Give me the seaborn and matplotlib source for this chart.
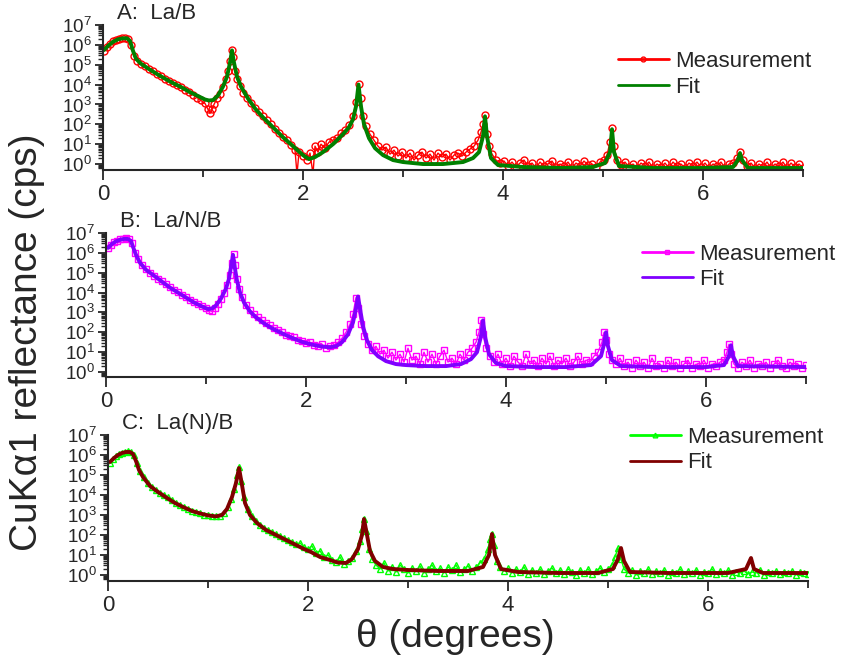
import numpy as np
import matplotlib
matplotlib.use("Agg")
import matplotlib.pyplot as plt
from matplotlib.ticker import LogLocator, MultipleLocator, NullFormatter
import seaborn as sns

sns.set_style("ticks")
plt.rcParams["font.family"] = ["Liberation Sans", "DejaVu Sans"]
plt.rcParams["mathtext.default"] = "regular"

# ---------------- data (theta in degrees, intensity as log10(cps)) ----------------
# Panel A: La/B
meas_a_theta = [0.01, 0.04, 0.07, 0.10, 0.13, 0.16, 0.19, 0.22, 0.25, 0.28, 0.31, 0.34, 0.38, 0.42, 0.46,
                0.50, 0.54, 0.58, 0.62, 0.66, 0.70, 0.74, 0.78, 0.82, 0.86, 0.90, 0.94, 0.98, 1.02, 1.05,
                1.07, 1.09, 1.11, 1.14, 1.17, 1.20, 1.23, 1.25, 1.27, 1.285, 1.30, 1.32, 1.34, 1.37, 1.40,
                1.44, 1.48, 1.52, 1.56, 1.60, 1.64, 1.68, 1.72, 1.76, 1.80, 1.84, 1.88, 1.92, 1.94, 1.96,
                2.00, 2.04, 2.07, 2.10, 2.12, 2.15, 2.18, 2.22, 2.26, 2.30, 2.34, 2.38, 2.42, 2.46, 2.50,
                2.53, 2.555, 2.575, 2.60, 2.63, 2.67, 2.71, 2.75, 2.79, 2.83, 2.87, 2.91, 2.95, 2.99, 3.03,
                3.07, 3.11, 3.15, 3.19, 3.23, 3.27, 3.31, 3.35, 3.39, 3.43, 3.47, 3.51, 3.55, 3.59, 3.63,
                3.67, 3.71, 3.75, 3.78, 3.80, 3.82, 3.84, 3.86, 3.89, 3.93, 3.97, 4.01, 4.05, 4.09, 4.13,
                4.17, 4.21, 4.25, 4.29, 4.33, 4.37, 4.41, 4.45, 4.49, 4.53, 4.57, 4.61, 4.65, 4.69, 4.73,
                4.77, 4.81, 4.85, 4.89, 4.93, 4.97, 5.01, 5.04, 5.07, 5.09, 5.11, 5.14, 5.18, 5.22, 5.26,
                5.30, 5.34, 5.38, 5.42, 5.46, 5.50, 5.54, 5.58, 5.62, 5.66, 5.70, 5.74, 5.78, 5.82, 5.86,
                5.90, 5.94, 5.98, 6.02, 6.06, 6.10, 6.14, 6.18, 6.22, 6.26, 6.30, 6.34, 6.37, 6.40, 6.44,
                6.48, 6.52, 6.56, 6.60, 6.64, 6.68, 6.72, 6.76, 6.80, 6.84, 6.88, 6.92, 6.96, 7.00]
meas_a_log = [5.70, 5.90, 6.05, 6.17, 6.25, 6.30, 6.33, 6.35, 6.32, 6.00, 5.45, 5.20, 5.05, 4.92, 4.80,
              4.68, 4.55, 4.43, 4.30, 4.20, 4.08, 3.98, 3.88, 3.75, 3.62, 3.50, 3.35, 3.20, 3.05, 2.75,
              2.55, 2.75, 3.00, 3.30, 3.55, 3.90, 4.30, 4.70, 5.20, 5.75, 5.40, 4.70, 4.30, 3.95, 3.60,
              3.30, 3.05, 2.80, 2.60, 2.40, 2.20, 2.00, 1.75, 1.55, 1.35, 1.20, 0.95, 0.70, -0.50, 0.60,
              0.40, 0.20, 0.55, -0.50, 0.90, 0.60, 1.00, 0.80, 1.10, 1.20, 1.30, 1.55, 1.70, 1.95, 2.40,
              3.10, 4.05, 3.30, 2.40, 1.90, 1.50, 1.20, 0.90, 0.70, 0.85, 0.50, 0.70, 0.40, 0.60, 0.30,
              0.55, 0.20, 0.45, 0.60, 0.30, 0.50, 0.20, 0.55, 0.35, 0.50, 0.20, 0.45, 0.55, 0.40, 0.60,
              0.75, 0.90, 1.20, 1.60, 2.00, 2.45, 1.50, 0.90, 0.50, 0.20, 0.05, 0.15, -0.10, 0.10, -0.15,
              0.05, 0.20, -0.10, 0.05, -0.20, 0.10, -0.10, 0.00, 0.15, -0.15, 0.00, -0.10, 0.10, -0.20, 0.05,
              -0.10, 0.15, -0.05, 0.00, -0.15, 0.10, 0.20, 0.45, 1.10, 1.80, 0.90, 0.20, -0.05, 0.10, -0.15,
              0.00, -0.20, 0.05, -0.10, 0.10, -0.20, 0.00, -0.15, 0.05, -0.20, 0.10, -0.10, 0.00, -0.20, 0.05,
              -0.10, 0.10, -0.15, 0.05, -0.20, 0.00, -0.10, 0.10, -0.20, 0.00, 0.05, 0.30, 0.60, 0.20, -0.10,
              0.05, -0.20, 0.00, -0.15, 0.10, -0.20, 0.00, -0.10, 0.10, -0.20, 0.05, -0.15, 0.00, -0.20]
fit_a_theta = [0.01, 0.05, 0.10, 0.15, 0.20, 0.24, 0.27, 0.30, 0.33, 0.38, 0.46, 0.55, 0.63, 0.71, 0.79,
               0.87, 0.96, 1.02, 1.06, 1.10, 1.15, 1.20, 1.24, 1.27, 1.29, 1.31, 1.34, 1.38, 1.45, 1.52,
               1.60, 1.70, 1.80, 1.90, 2.00, 2.06, 2.12, 2.20, 2.30, 2.40, 2.46, 2.50, 2.53, 2.555, 2.58,
               2.61, 2.66, 2.72, 2.80, 2.90, 3.00, 3.20, 3.40, 3.60, 3.70, 3.76, 3.80, 3.82, 3.84, 3.88,
               3.95, 4.20, 4.60, 4.90, 5.02, 5.07, 5.09, 5.11, 5.16, 5.50, 6.00, 6.30, 6.35, 6.37, 6.39,
               6.45, 7.00]
fit_a_log = [5.74, 5.95, 6.15, 6.28, 6.33, 6.33, 6.20, 5.70, 5.30, 5.05, 4.78, 4.50, 4.27, 4.05, 3.85,
             3.62, 3.40, 3.25, 3.20, 3.22, 3.45, 3.90, 4.40, 5.10, 5.72, 5.10, 4.40, 3.90, 3.30, 2.80,
             2.35, 1.85, 1.35, 0.90, 0.45, 0.25, 0.35, 0.60, 1.00, 1.50, 1.85, 2.25, 2.90, 4.00, 2.90,
             2.00, 1.30, 0.80, 0.45, 0.20, 0.10, 0.00, 0.00, 0.10, 0.30, 0.60, 1.40, 2.40, 1.40, 0.30,
             -0.05, -0.15, -0.20, -0.15, 0.05, 0.60, 1.75, 0.60, -0.10, -0.20, -0.20, -0.15, 0.20, 0.55, 0.20,
             -0.20, -0.20]

# Panel B: La/N/B
meas_b_theta = [0.02, 0.05, 0.08, 0.11, 0.14, 0.17, 0.20, 0.23, 0.26, 0.29, 0.32, 0.36, 0.40, 0.44, 0.48,
                0.52, 0.56, 0.60, 0.64, 0.68, 0.72, 0.76, 0.80, 0.84, 0.88, 0.92, 0.96, 1.00, 1.03, 1.06,
                1.09, 1.12, 1.15, 1.18, 1.21, 1.24, 1.26, 1.275, 1.29, 1.31, 1.33, 1.36, 1.40, 1.44, 1.48,
                1.52, 1.56, 1.60, 1.64, 1.68, 1.72, 1.76, 1.80, 1.84, 1.88, 1.92, 1.96, 2.00, 2.04, 2.08,
                2.12, 2.16, 2.20, 2.24, 2.28, 2.32, 2.36, 2.40, 2.44, 2.47, 2.50, 2.52, 2.55, 2.58, 2.62,
                2.66, 2.70, 2.74, 2.78, 2.82, 2.86, 2.90, 2.94, 2.98, 3.02, 3.06, 3.10, 3.14, 3.18, 3.22,
                3.26, 3.30, 3.34, 3.38, 3.42, 3.46, 3.50, 3.54, 3.58, 3.62, 3.66, 3.70, 3.73, 3.75, 3.77,
                3.80, 3.84, 3.88, 3.92, 3.96, 4.00, 4.04, 4.08, 4.12, 4.16, 4.20, 4.24, 4.28, 4.32, 4.36,
                4.40, 4.44, 4.48, 4.52, 4.56, 4.60, 4.64, 4.68, 4.72, 4.76, 4.80, 4.84, 4.88, 4.92, 4.96,
                4.98, 5.00, 5.03, 5.06, 5.10, 5.14, 5.18, 5.22, 5.26, 5.30, 5.34, 5.38, 5.42, 5.46, 5.50,
                5.54, 5.58, 5.62, 5.66, 5.70, 5.74, 5.78, 5.82, 5.86, 5.90, 5.94, 5.98, 6.02, 6.06, 6.10,
                6.14, 6.18, 6.21, 6.23, 6.25, 6.28, 6.32, 6.36, 6.40, 6.44, 6.48, 6.52, 6.56, 6.60, 6.64,
                6.68, 6.72, 6.76, 6.80, 6.84, 6.88, 6.92, 6.96, 7.00]
meas_b_log = [6.25, 6.42, 6.55, 6.62, 6.68, 6.72, 6.73, 6.70, 6.50, 6.00, 5.70, 5.40, 5.18, 5.00, 4.85,
              4.70, 4.57, 4.42, 4.30, 4.15, 4.03, 3.90, 3.78, 3.65, 3.52, 3.42, 3.30, 3.20, 3.10, 3.05,
              3.20, 3.45, 3.70, 4.00, 4.40, 4.90, 5.50, 5.95, 5.40, 4.70, 4.20, 3.80, 3.40, 3.12, 2.90,
              2.75, 2.60, 2.45, 2.35, 2.20, 2.10, 2.00, 1.88, 1.80, 1.75, 1.60, 1.55, 1.45, 1.50, 1.35,
              1.30, 1.40, 1.20, 1.30, 1.35, 1.50, 1.70, 2.00, 2.40, 2.90, 3.75, 3.20, 2.40, 1.80, 1.40,
              1.10, 1.30, 0.90, 1.10, 0.70, 1.00, 0.60, 0.90, 0.50, 1.20, 0.60, 0.80, 0.40, 1.00, 0.50,
              0.90, 0.40, 0.80, 1.10, 0.50, 0.70, 0.40, 0.90, 0.60, 1.00, 1.20, 1.50, 2.00, 2.60, 1.90,
              1.20, 0.80, 0.50, 0.90, 0.40, 0.70, 0.30, 0.80, 0.50, 0.30, 0.90, 0.40, 0.60, 0.30, 0.70,
              0.40, 0.80, 0.30, 0.60, 0.40, 0.70, 0.30, 0.50, 0.80, 0.40, 0.60, 0.50, 0.80, 1.00, 1.50,
              2.00, 1.60, 0.90, 0.60, 0.40, 0.70, 0.30, 0.50, 0.20, 0.60, 0.30, 0.50, 0.20, 0.70, 0.30,
              0.40, 0.20, 0.60, 0.30, 0.50, 0.20, 0.40, 0.60, 0.20, 0.40, 0.30, 0.60, 0.20, 0.40, 0.30,
              0.50, 0.60, 1.00, 1.40, 0.90, 0.40, 0.20, 0.50, 0.30, 0.60, 0.20, 0.40, 0.30, 0.50, 0.20,
              0.40, 0.60, 0.30, 0.20, 0.50, 0.30, 0.40, 0.20, 0.35]
fit_b_theta = [0.02, 0.06, 0.10, 0.14, 0.18, 0.22, 0.25, 0.27, 0.30, 0.34, 0.40, 0.48, 0.56, 0.64, 0.72,
               0.80, 0.88, 0.96, 1.02, 1.06, 1.10, 1.15, 1.20, 1.23, 1.25, 1.27, 1.29, 1.31, 1.34, 1.38,
               1.44, 1.50, 1.58, 1.66, 1.76, 1.86, 1.96, 2.06, 2.16, 2.24, 2.30, 2.36, 2.42, 2.47, 2.50,
               2.52, 2.54, 2.57, 2.61, 2.66, 2.72, 2.80, 2.90, 3.00, 3.20, 3.40, 3.55, 3.65, 3.71, 3.75,
               3.77, 3.79, 3.83, 3.90, 4.00, 4.30, 4.60, 4.85, 4.95, 4.98, 5.00, 5.02, 5.06, 5.15, 5.50,
               6.00, 6.18, 6.23, 6.25, 6.27, 6.32, 7.00]
fit_b_log = [6.25, 6.45, 6.58, 6.66, 6.70, 6.70, 6.60, 6.30, 5.90, 5.50, 5.15, 4.85, 4.55, 4.25, 4.00,
             3.75, 3.50, 3.30, 3.17, 3.20, 3.35, 3.70, 4.20, 4.70, 5.30, 5.90, 5.20, 4.60, 4.00, 3.50,
             3.05, 2.75, 2.45, 2.20, 1.95, 1.72, 1.52, 1.38, 1.28, 1.25, 1.30, 1.50, 1.90, 2.50, 3.20,
             3.80, 3.20, 2.30, 1.60, 1.10, 0.80, 0.55, 0.40, 0.35, 0.30, 0.30, 0.40, 0.65, 1.00, 1.80,
             2.60, 1.80, 0.90, 0.45, 0.30, 0.25, 0.25, 0.35, 0.80, 1.40, 2.00, 1.30, 0.60, 0.30, 0.25,
             0.25, 0.35, 0.80, 1.35, 0.80, 0.30, 0.25]

# Panel C: La(N)/B
meas_c_theta = [0.02, 0.05, 0.08, 0.11, 0.14, 0.17, 0.20, 0.23, 0.26, 0.29, 0.32, 0.36, 0.40, 0.44, 0.48,
                0.52, 0.56, 0.60, 0.64, 0.68, 0.72, 0.76, 0.80, 0.84, 0.88, 0.92, 0.96, 1.00, 1.04, 1.08,
                1.12, 1.16, 1.20, 1.23, 1.26, 1.29, 1.31, 1.33, 1.36, 1.40, 1.44, 1.48, 1.52, 1.56, 1.60,
                1.64, 1.68, 1.72, 1.76, 1.80, 1.84, 1.88, 1.92, 1.96, 2.00, 2.04, 2.08, 2.12, 2.16, 2.20,
                2.24, 2.28, 2.32, 2.36, 2.40, 2.44, 2.48, 2.52, 2.54, 2.56, 2.58, 2.61, 2.64, 2.68, 2.72,
                2.76, 2.80, 2.84, 2.88, 2.92, 2.96, 3.00, 3.04, 3.08, 3.12, 3.16, 3.20, 3.24, 3.28, 3.32,
                3.36, 3.40, 3.44, 3.48, 3.52, 3.56, 3.60, 3.64, 3.68, 3.72, 3.76, 3.80, 3.82, 3.84, 3.86,
                3.89, 3.92, 3.96, 4.00, 4.04, 4.08, 4.12, 4.16, 4.20, 4.24, 4.28, 4.32, 4.36, 4.40, 4.44,
                4.48, 4.52, 4.56, 4.60, 4.64, 4.68, 4.72, 4.76, 4.80, 4.84, 4.88, 4.92, 4.96, 5.00, 5.04,
                5.07, 5.10, 5.13, 5.16, 5.20, 5.24, 5.28, 5.32, 5.36, 5.40, 5.44, 5.48, 5.52, 5.56, 5.60,
                5.64, 5.68, 5.72, 5.76, 5.80, 5.84, 5.88, 5.92, 5.96, 6.00, 6.04, 6.08, 6.12, 6.16, 6.20,
                6.24, 6.28, 6.32, 6.36, 6.40, 6.44, 6.48, 6.52, 6.56, 6.60, 6.64, 6.68, 6.72, 6.76, 6.80,
                6.84, 6.88, 6.92, 6.96, 7.00]
meas_c_log = [5.60, 5.80, 5.95, 6.05, 6.12, 6.17, 6.18, 6.15, 6.00, 5.60, 5.20, 4.90, 4.60, 4.42, 4.27,
              4.12, 4.00, 3.88, 3.75, 3.62, 3.50, 3.42, 3.30, 3.22, 3.15, 3.08, 3.02, 2.98, 2.95, 2.93,
              2.97, 3.10, 3.40, 3.80, 4.30, 5.00, 5.40, 4.70, 3.90, 3.30, 2.95, 2.70, 2.50, 2.35, 2.25,
              2.15, 2.05, 1.95, 1.85, 1.75, 1.65, 1.55, 1.60, 1.40, 1.30, 1.45, 1.10, 1.20, 0.90, 1.00,
              0.75, 0.65, 0.90, 0.55, 0.70, 0.85, 1.20, 1.70, 2.30, 2.80, 2.20, 1.30, 0.80, 0.50, 0.30,
              0.60, 0.20, 0.40, 0.15, 0.50, 0.30, 0.10, 0.35, 0.20, 0.45, 0.10, 0.30, 0.50, 0.20, 0.35,
              0.10, 0.40, 0.25, 0.50, 0.15, 0.30, 0.45, 0.20, 0.40, 0.60, 0.80, 1.30, 1.80, 2.05, 1.50,
              0.70, 0.40, 0.20, 0.35, 0.10, 0.30, 0.15, 0.40, 0.05, 0.25, 0.10, 0.30, 0.05, 0.20, 0.35,
              0.10, 0.25, 0.05, 0.30, 0.15, 0.00, 0.25, 0.10, 0.30, 0.05, 0.20, 0.35, 0.15, 0.30, 0.50,
              0.90, 1.35, 0.80, 0.30, 0.10, 0.25, 0.00, 0.20, 0.10, 0.30, 0.05, 0.20, 0.10, 0.25, 0.00,
              0.15, 0.10, 0.30, 0.05, 0.20, 0.10, 0.25, 0.00, 0.15, 0.10, 0.30, 0.05, 0.20, 0.10, 0.25,
              0.00, 0.15, 0.10, 0.20, 0.05, 0.15, 0.10, 0.25, 0.00, 0.15, 0.10, 0.20, 0.05, 0.15, 0.10,
              0.20, 0.00, 0.15, 0.10, 0.05]
fit_c_theta = [0.02, 0.06, 0.10, 0.14, 0.18, 0.22, 0.25, 0.28, 0.31, 0.35, 0.42, 0.50, 0.59, 0.67, 0.75,
               0.84, 0.92, 1.00, 1.08, 1.14, 1.19, 1.24, 1.28, 1.31, 1.34, 1.37, 1.42, 1.49, 1.58, 1.68,
               1.76, 1.86, 1.96, 2.03, 2.12, 2.22, 2.30, 2.38, 2.44, 2.50, 2.54, 2.56, 2.59, 2.62, 2.67,
               2.75, 2.85, 3.00, 3.30, 3.60, 3.75, 3.81, 3.84, 3.87, 3.93, 4.10, 4.50, 4.90, 5.05, 5.10,
               5.13, 5.16, 5.22, 5.60, 6.20, 6.38, 6.43, 6.46, 6.55, 7.00]
fit_c_log = [5.65, 5.85, 6.00, 6.10, 6.15, 6.15, 6.05, 5.70, 5.25, 4.90, 4.45, 4.15, 3.85, 3.60, 3.40,
             3.20, 3.08, 2.98, 2.93, 3.00, 3.30, 3.90, 4.60, 5.35, 4.50, 3.60, 3.00, 2.60, 2.25, 2.00,
             1.80, 1.55, 1.30, 1.15, 0.90, 0.75, 0.62, 0.60, 0.80, 1.30, 2.00, 2.80, 2.00, 1.20, 0.70,
             0.40, 0.30, 0.25, 0.20, 0.20, 0.40, 1.00, 2.05, 1.00, 0.30, 0.15, 0.10, 0.10, 0.30, 0.80,
             1.35, 0.70, 0.15, 0.10, 0.10, 0.30, 0.85, 0.30, 0.10, 0.10]

panel_titles = ["A:  La/B", "B:  La/N/B", "C:  La(N)/B"]
x_label = "\u03b8 (degrees)"
y_label = "CuK\u03b11 reflectance (cps)"
legend_labels = ["Measurement", "Fit"]

panels = [
    dict(mt=meas_a_theta, ml=meas_a_log, ft=fit_a_theta, fl=fit_a_log,
         mcol="#FF0000", fcol="#008000", marker="o", ms=5.0,
         rect=[103 / 842, 1 - 170 / 657, 700 / 842, 145 / 657], ymin=-0.30,
         leg=(0.735, 0.82)),
    dict(mt=meas_b_theta, ml=meas_b_log, ft=fit_b_theta, fl=fit_b_log,
         mcol="#FF00FF", fcol="#8000FF", marker="s", ms=4.2,
         rect=[106 / 842, 1 - 377 / 657, 700 / 842, 144 / 657], ymin=-0.25,
         leg=(0.765, 0.925)),
    dict(mt=meas_c_theta, ml=meas_c_log, ft=fit_c_theta, fl=fit_c_log,
         mcol="#00FF00", fcol="#800000", marker="^", ms=4.8,
         rect=[108 / 842, 1 - 581 / 657, 700 / 842, 146 / 657], ymin=-0.30,
         leg=(0.745, 1.055)),
]

fig = plt.figure(figsize=(8.42, 6.57), dpi=100)

for p, title in zip(panels, panel_titles):
    ax = fig.add_axes(p["rect"])
    my = 10 ** np.array(p["ml"])
    fy = 10 ** np.array(p["fl"])
    sns.lineplot(x=p["mt"], y=my, ax=ax, color=p["mcol"], lw=1.0, marker=p["marker"],
                 markersize=p["ms"], markerfacecolor="none", markeredgecolor=p["mcol"],
                 markeredgewidth=1.0, estimator=None, sort=False, label=legend_labels[0])
    sns.lineplot(x=p["ft"], y=fy, ax=ax, color=p["fcol"], lw=2.8, estimator=None,
                 sort=False, label=legend_labels[1])
    ax.set_yscale("log")
    ax.set_xlim(0, 7)
    ax.set_ylim(10 ** p["ymin"], 1e7)
    ax.xaxis.set_major_locator(MultipleLocator(2))
    ax.xaxis.set_minor_locator(MultipleLocator(1))
    ax.yaxis.set_major_locator(LogLocator(base=10, numticks=20))
    ax.yaxis.set_minor_locator(LogLocator(base=10, subs=np.arange(2, 10), numticks=20))
    ax.yaxis.set_minor_formatter(NullFormatter())
    ax.tick_params(axis="y", which="major", length=6, width=1.3, labelsize=13.5, pad=2)
    ax.tick_params(axis="y", which="minor", length=3.5, width=1.0)
    ax.tick_params(axis="x", which="major", length=7, width=1.3, labelsize=16, pad=3)
    ax.tick_params(axis="x", which="minor", length=5, width=1.3)
    for s in ["top", "right"]:
        ax.spines[s].set_visible(False)
    for s in ["left", "bottom"]:
        ax.spines[s].set_linewidth(1.5)
    ax.set_xlabel("")
    ax.set_ylabel("")
    ax.text(0.02, 1.01, title, transform=ax.transAxes, fontsize=16, ha="left", va="bottom")
    ax.legend(loc="upper left", bbox_to_anchor=p["leg"], frameon=False, fontsize=16,
              handlelength=2.3, handletextpad=0.3, labelspacing=0.2, borderpad=0,
              borderaxespad=0, markerscale=0.7, numpoints=1)
    for line in ax.get_legend().get_lines():
        line.set_linewidth(2.0)

fig.text(455 / 842, 1 - 637 / 657, x_label, fontsize=28, ha="center", va="center")
fig.text(27 / 842, 1 - 342 / 657, y_label, fontsize=28, ha="center", va="center", rotation=90)

fig.savefig("out.png", dpi=100)
